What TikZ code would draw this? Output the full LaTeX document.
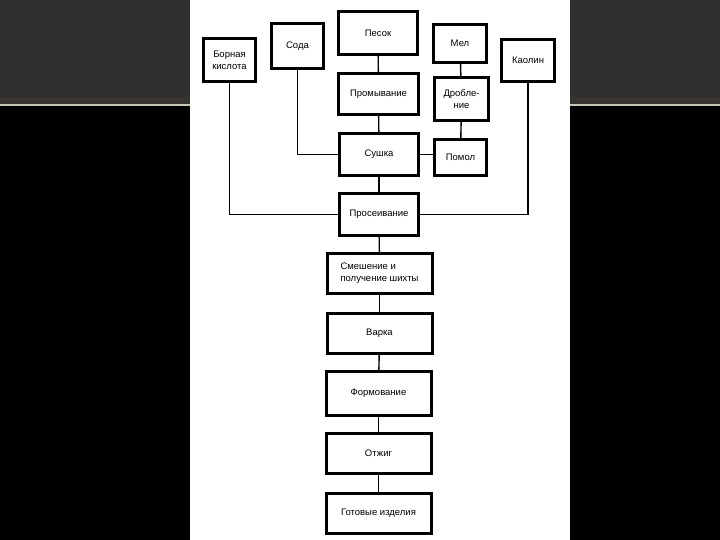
\documentclass[tikz,border=0pt]{standalone}
\usepackage{fontspec}
\setmainfont{Liberation Sans}
\definecolor{bandgray}{HTML}{2F2F2F}
\definecolor{bandedge}{HTML}{36362E}
\definecolor{rulegray}{HTML}{C6C6B2}
\begin{document}
\begin{tikzpicture}[x=1pt, y=-1pt,
        stage/.style={draw, fill=white, line width=3.4pt, inner sep=1pt, align=center,
            font=\fontsize{9.5}{12}\selectfont},
        chain/.style={stage, line width=3pt, minimum width=105pt, minimum height=40pt},
        link/.style={line width=1.4pt}]
        \useasboundingbox (0,0) rectangle (720,540);

        % Slide background
        \fill[black] (0,0) rectangle (720,540);
        \fill[bandgray] (0,0) rectangle (720,97);
        \fill[bandedge] (0,97) rectangle (720,104);
        \fill[rulegray] (0,104) rectangle (720,106);
        \fill[white] (190,0) rectangle (570,540);

        % Raw materials (top row)
        \node[stage, minimum width=52pt, minimum height=43pt] (borna) at (229.5,60) {Борная\\кислота};
        \node[stage, minimum width=52pt, minimum height=45pt] (soda) at (297.5,46) {Сода};
        \node[stage, minimum width=79pt, minimum height=43pt] (pesok) at (378,33) {Песок};
        \node[stage, minimum width=53pt, minimum height=38pt] (mel) at (460,43.5) {Мел};
        \node[stage, minimum width=53pt, minimum height=42pt] (kaolin) at (528,60.5) {Каолин};

        % Preparation
        \node[stage, minimum width=80pt, minimum height=41pt] (promyv) at (378.5,94) {Промывание};
        \node[stage, minimum width=54pt, minimum height=43pt] (drob) at (461.5,99) {Дробле-\\ние};
        \node[stage, minimum width=79pt, minimum height=42pt] (sushka) at (379,154.5) {Сушка};
        \node[stage, minimum width=52pt, minimum height=36pt] (pomol) at (460.5,157.5) {Помол};
        \node[stage, minimum width=79pt, minimum height=42pt] (proseiv) at (379,214.5) {Просеивание};

        % Main line
        \node[chain, align=left] (smesh) at (379.5,273.5) {Смешение и\\получение шихты};
        \node[chain] (varka) at (379.5,333.5) {Варка};
        \node[chain, minimum height=44pt] (form) at (378.5,393.5) {Формование};
        \node[chain] (otzhig) at (378.5,453.5) {Отжиг};
        \node[chain] (gotov) at (378.5,513.5) {Готовые изделия};

        % Connectors
        \draw[link] (pesok) -- (promyv);
        \draw[link] (promyv) -- (sushka);
        \draw[link] (mel) -- (drob);
        \draw[link] (drob) -- (pomol);
        \draw[link] (sushka) -- (sushka -| pomol.west);
        \draw[link] (soda) |- (sushka);
        \draw[link] (borna) |- (proseiv);
        \draw[link] (kaolin) |- (proseiv);
        \draw[link] (sushka) -- (proseiv);
        \draw[link] (proseiv) -- (smesh);
        \draw[link] (smesh) -- (varka);
        \draw[link] (varka) -- (form);
        \draw[link] (form) -- (otzhig);
        \draw[link] (otzhig) -- (gotov);
\end{tikzpicture}
\end{document}
